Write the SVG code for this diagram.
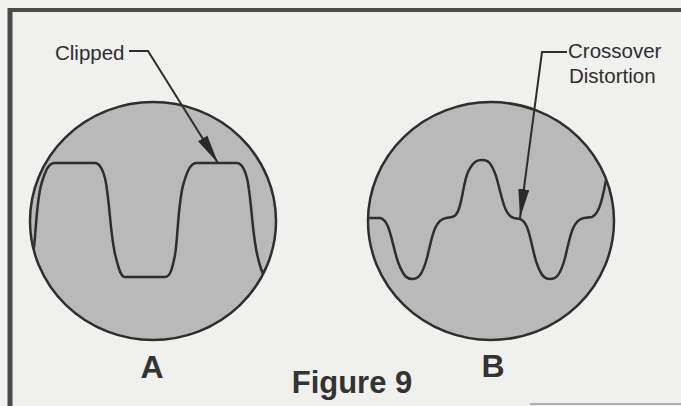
<svg xmlns="http://www.w3.org/2000/svg" width="681" height="406" viewBox="0 0 681 406">
  <style>
    .scope { fill: #b9b9b9; stroke: #2e2e2e; stroke-width: 2.5; }
    .wave { fill: none; stroke: #2e2e2e; stroke-width: 2.5; stroke-linejoin: round; }
    .lead { fill: none; stroke: #2e2e2e; stroke-width: 2; }
    .lbl { font-family: "Liberation Sans", Arial, sans-serif; font-size: 20.5px; fill: #2e2e2e; }
    .big { font-family: "Liberation Sans", Arial, sans-serif; font-weight: bold; fill: #333; text-anchor: middle; }
    .frame { stroke: #4a4a4a; fill: none; }
  </style>
  <defs>
    <marker id="arrow" markerUnits="userSpaceOnUse" markerWidth="30" markerHeight="12" viewBox="0 0 30 12" refX="29" refY="6" orient="auto">
      <path d="M0,0.5 L29,6 L0,11.5 Z" fill="#2a2a2a"/>
    </marker>
    <clipPath id="clipA"><ellipse cx="153" cy="221" rx="122" ry="118"/></clipPath>
    <clipPath id="clipB"><ellipse cx="491" cy="221" rx="122" ry="118"/></clipPath>
  </defs>

  <rect x="0" y="0" width="681" height="406" fill="#f0f0ee"/>

  <g id="frame">
    <line class="frame" x1="8" y1="10" x2="681" y2="10" stroke-width="4"/>
    <line class="frame" x1="10" y1="8" x2="10" y2="406" stroke-width="5"/>
    <line x1="530" y1="404" x2="681" y2="404" stroke="#9a9a9a" stroke-width="1.5"/>
  </g>

  <g id="scope-a">
    <ellipse class="scope" cx="153" cy="221" rx="123" ry="119"/>
    <path class="wave" clip-path="url(#clipA)" d="M 0 277 L 23 277 C 28 277, 30 270, 33 255 C 36 238, 36 200, 42 182 C 46 169, 49 163, 55 163 L 95 163 C 100 163, 105 172, 107 190 C 110 210, 111 240, 116 258 C 119 270, 121 277, 125 277 L 165 277 C 170 277, 172 270, 175 255 C 178 238, 178 200, 184 182 C 188 169, 191 163, 197 163 L 237 163 C 242 163, 247 172, 249 190 C 252 210, 253 240, 258 258 C 261 270, 263 277, 267 277 L 290 277"/>
    <text class="big" x="152" y="378" font-size="32">A</text>
  </g>

  <g id="scope-b">
    <ellipse class="scope" cx="491" cy="221" rx="123" ry="119"/>
    <path class="wave" clip-path="url(#clipB)" d="M 360 218 L 380 218 C 390 219, 392 245, 398 262 C 404 278, 408 279, 412 279 C 418 279, 422 276, 427 258 C 432 238, 434 220, 446 218 L 452 217 C 462 216, 462 185, 468 172 C 474 160, 478 160, 482 160 C 488 160, 491 162, 496 176 C 502 196, 504 216, 514 218 L 520 219 C 530 222, 531 248, 537 264 C 542 278, 546 279, 550 279 C 556 279, 560 276, 565 258 C 570 238, 572 220, 584 218 L 592 217 C 600 214, 603 196, 608 170 L 612 150"/>
    <text class="big" x="493" y="377" font-size="32">B</text>
  </g>

  <g id="label-clipped">
    <text class="lbl" x="55" y="60">Clipped</text>
  </g>

  <g id="label-crossover">
    <text class="lbl" x="568" y="58">Crossover</text>
    <text class="lbl" x="569" y="83">Distortion</text>
  </g>

  <g id="connectors">
    <polyline class="lead" points="129,51 148,51 218,163" marker-end="url(#arrow)"/>
    <polyline class="lead" points="567,52 542,52 520,218" marker-end="url(#arrow)"/>
  </g>

  <g id="caption">
    <text class="big" x="352" y="393" font-size="31">Figure 9</text>
  </g>
</svg>
